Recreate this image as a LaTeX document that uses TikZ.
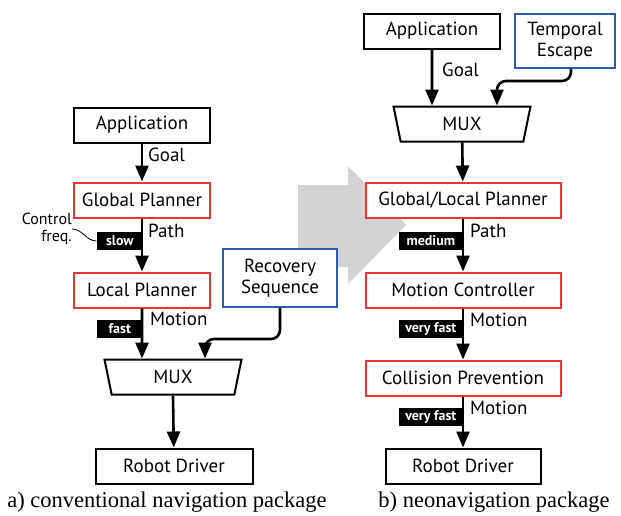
\documentclass[tikz,border=0pt]{standalone}
\usepackage{fontspec}
\setmainfont{PT Sans}
\newfontfamily\capfont{Liberation Serif}
\usetikzlibrary{shapes.geometric,arrows.meta}

\definecolor{planred}{RGB}{236,52,56}
\definecolor{escblue}{RGB}{42,92,170}
\definecolor{shiftgray}{RGB}{209,211,212}

\begin{document}
\begin{tikzpicture}[x=1pt,y=-1pt]
\tikzstyle{every node}+=[inner sep=0pt, font=\fontsize{19}{21}\selectfont]
\tikzstyle{blk}=[draw=black, line width=2pt, fill=white, minimum height=35pt, align=center]
\tikzstyle{redblk}=[blk, draw=planred]
\tikzstyle{blueblk}=[blk, draw=escblue]
\tikzstyle{muxbox}=[draw=black, line width=2pt, fill=white, trapezium, shape border rotate=180, trapezium angle=62, trapezium stretches body, minimum width=137pt, minimum height=35pt]
\tikzstyle{freqtag}=[fill=black, text=white, font=\fontsize{14}{15}\selectfont\bfseries, minimum height=18pt, anchor=east]
\tikzstyle{flow}=[line width=2.6pt, -{Triangle[length=16pt,width=13pt]}]
\tikzstyle{lbl}=[anchor=west]
\tikzstyle{caption}=[font=\capfont\fontsize{22.5}{24}\selectfont]
\useasboundingbox (0,0) rectangle (621,515);

% big gray arrow between the two stacks
\fill [shiftgray] (298,185) -- (348,185) -- (348,166) -- (406,225) -- (348,284) -- (348,267) -- (298,267) -- cycle;

% a) conventional
\node [blk, minimum width=136pt] (appA) at (142,125) {Application};
\node [redblk, minimum width=136pt] (gpA) at (142,200) {Global Planner};
\node [redblk, minimum width=136pt] (lpA) at (142,290) {Local Planner};
\node [blueblk, minimum width=114pt, minimum height=58pt] (recA) at (280,278) {Recovery\\Sequence};
\node [muxbox] (muxA) at (173,377) {MUX};
\node [blk, minimum width=157pt] (drvA) at (174,466) {Robot Driver};

\draw [flow] (appA) -- (gpA);
\draw (148,155) node [lbl] {Goal};
\draw [flow] (gpA) -- (lpA);
\draw (148,231) node [lbl] {Path};
\node [freqtag, minimum width=46pt] (slowA) at (143,241) {slow};
\node [align=right, anchor=east, font=\fontsize{16}{17}\selectfont] (ctrlnote) at (72,229) {Control\\freq.};
\draw [line width=0.8pt] (ctrlnote.east) to [out=0,in=180] (slowA.west);
\draw [flow] (lpA.south) -- ([xshift=-31pt]muxA.north);
\draw (150,319) node [lbl] {Motion};
\node [freqtag, minimum width=46pt] (fastA) at (143,329) {fast};
\draw [flow, rounded corners=9pt] (recA.south) -- ++(0,31) -| ([xshift=32pt]muxA.north);
\draw [flow] (muxA.south) -- (drvA);

% b) neonavigation
\node [blk, minimum width=136pt] (appB) at (432,31) {Application};
\node [blueblk, minimum width=100pt, minimum height=54pt] (escB) at (565,41) {Temporal\\Escape};
\node [muxbox] (muxB) at (462,124) {MUX};
\node [redblk, minimum width=195pt] (plB) at (463,200) {Global/Local Planner};
\node [redblk, minimum width=195pt] (mcB) at (463,290) {Motion Controller};
\node [redblk, minimum width=195pt] (cpB) at (463,378) {Collision Prevention};
\node [blk, minimum width=155pt] (drvB) at (463,466) {Robot Driver};

\draw [flow] (appB.south -| 432,0) -- ([xshift=-30pt]muxB.north);
\draw (442,70) node [lbl] {Goal};
\draw [flow, rounded corners=9pt] ([xshift=6pt]escB.south) -- ++(0,12) -| ([xshift=35pt]muxB.north);
\draw [flow] (muxB) -- (plB);
\draw [flow] (plB) -- (mcB);
\draw (470,231) node [lbl] {Path};
\node [freqtag, minimum width=64pt] (medB) at (463,241) {medium};
\draw [flow] (mcB) -- (cpB);
\draw (470,320) node [lbl] {Motion};
\node [freqtag, minimum width=64pt] (vf1B) at (463,329) {very fast};
\draw [flow] (cpB) -- (drvB);
\draw (470,408) node [lbl] {Motion};
\node [freqtag, minimum width=64pt] (vf2B) at (463,417) {very fast};

% captions
\node [caption] (capA) at (167,502) {a) conventional navigation package};
\node [caption] (capB) at (494,502) {b) neonavigation package};
\end{tikzpicture}
\end{document}
